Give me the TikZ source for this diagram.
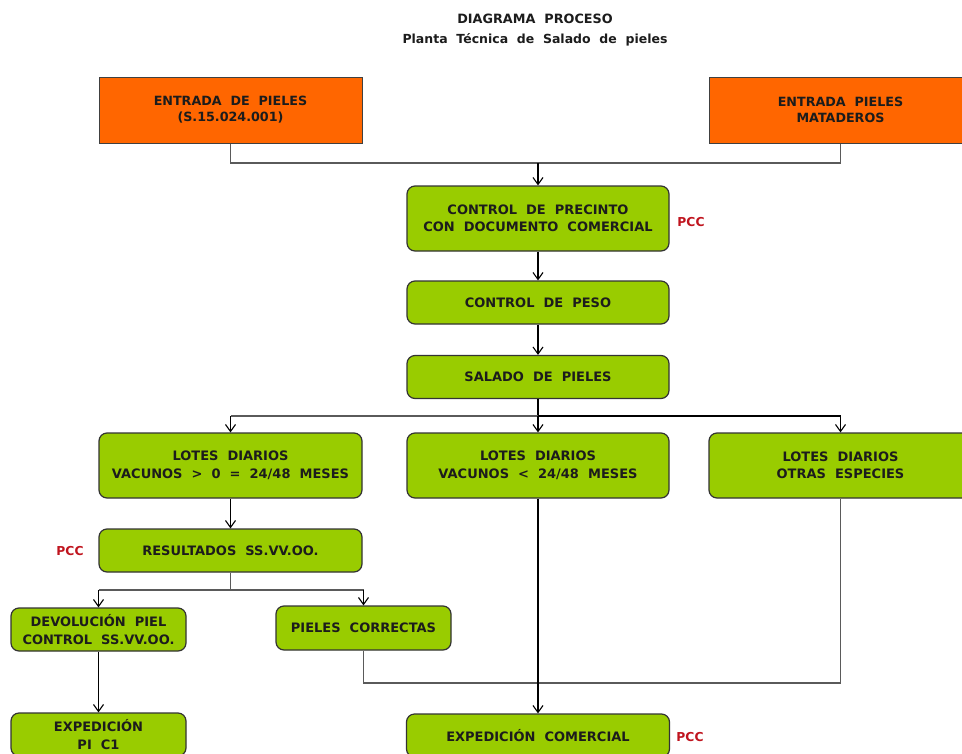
\documentclass[tikz,border=0pt]{standalone}
\usepackage{fontspec}
\usetikzlibrary{arrows.meta}
\newfontfamily\dvbold[WordSpace=2]{DejaVu Sans Bold}
\definecolor{orng}{HTML}{FF6600}
\definecolor{grn}{HTML}{99CC00}
\definecolor{txt}{HTML}{1C1C1C}
\definecolor{pccred}{HTML}{C0141E}
\definecolor{lk}{HTML}{5A5A5A}
\tikzset{
  orangebox/.style={draw=black!75, fill=orng, line width=1pt, align=center,
    text=txt, inner sep=0pt, font=\dvbold\fontsize{12.7}{16}\selectfont},
  greenbox/.style={draw=black!80, fill=grn, rounded corners=8pt, line width=1.2pt,
    align=center, text=txt, inner sep=0pt, font=\dvbold\fontsize{13}{17.5}\selectfont},
  link/.style={draw=lk, line width=1.6pt},
  strong/.style={draw=black, line width=1.6pt},
  arr/.style={draw=black, line width=1.1pt, -{Straight Barb[length=7pt,width=10pt]}},
  pcc/.style={text=pccred, font=\dvbold\fontsize{12.3}{14}\selectfont},
  heading/.style={text=txt, font=\dvbold\fontsize{12.8}{15}\selectfont}
}
\begin{document}
\begin{tikzpicture}[x=1pt,y=-1pt]
\useasboundingbox (0,0) rectangle (962,753);
\fill[white] (0,0) rectangle (962,753);

% heading
\node[heading] (t1) at (535,19) {DIAGRAMA PROCESO};
\node[heading, font=\dvbold\fontsize{12.5}{15}\selectfont] (t2) at (535,40)
  {Planta Técnica de Salado de pieles};

% input boxes
\node[orangebox, minimum width=263pt, minimum height=66pt] (inA) at (230.5,110)
  {ENTRADA DE PIELES\\(S.15.024.001)};
\node[orangebox, minimum width=263pt, minimum height=66pt] (inB) at (840.5,110)
  {ENTRADA PIELES\\MATADEROS};

% main process chain
\node[greenbox, minimum width=262pt, minimum height=65pt] (precinto) at (538,218.5)
  {CONTROL DE PRECINTO\\CON DOCUMENTO COMERCIAL};
\node[greenbox, minimum width=262pt, minimum height=43pt] (peso) at (538,302.5)
  {CONTROL DE PESO};
\node[greenbox, minimum width=262pt, minimum height=43pt] (salado) at (538,377)
  {SALADO DE PIELES};

% daily lots
\node[greenbox, minimum width=263pt, minimum height=65pt] (loteA) at (230.5,465.5)
  {LOTES DIARIOS\\VACUNOS > 0 = 24/48 MESES};
\node[greenbox, minimum width=262pt, minimum height=65pt] (loteB) at (538,465.5)
  {LOTES DIARIOS\\VACUNOS < 24/48 MESES};
\node[greenbox, minimum width=263pt, minimum height=65pt] (loteC) at (840.5,465.5)
  {LOTES DIARIOS\\OTRAS ESPECIES};

% test results and outcomes
\node[greenbox, minimum width=263pt, minimum height=43pt] (result) at (230.5,550.5)
  {RESULTADOS SS.VV.OO.};
\node[greenbox, minimum width=175pt, minimum height=43pt] (devol) at (98.5,629.5)
  {DEVOLUCIÓN PIEL\\CONTROL SS.VV.OO.};
\node[greenbox, minimum width=175pt, minimum height=44pt] (ok) at (363.5,628)
  {PIELES CORRECTAS};
\node[greenbox, minimum width=175pt, minimum height=43pt] (expPI) at (98.5,734.5)
  {EXPEDICIÓN\\PI C1};
\node[greenbox, minimum width=263pt, minimum height=43pt] (expCom) at (538,735.5)
  {EXPEDICIÓN COMERCIAL};

% critical control points
\node[pcc] (pcc1) at (691,222) {PCC};
\node[pcc] (pcc2) at (70,551) {PCC};
\node[pcc] (pcc3) at (690,737) {PCC};

% junction points
\coordinate (j1) at (538,163);
\coordinate (j2) at (538,416);
\coordinate (j3) at (230.5,590);
\coordinate (j4) at (840.5,683);

% inputs merge into the seal check
\draw[link] (inA.south) |- (j1) -| (inB.south);
\draw[arr] (j1) -- (precinto.north);
\draw[arr] (precinto.south) -- (peso.north);
\draw[arr] (peso.south) -- (salado.north);

% split into daily lots
\draw[draw=black, line width=2.6pt] (salado.south) -- (j2);
\draw[link] (loteA.north |- j2) -- (j2);
\draw[strong] (j2) -- (loteC.north |- j2);
\draw[arr] (loteA.north |- j2) -- (loteA.north);
\draw[arr] (j2) -- (loteB.north);
\draw[arr] (loteC.north |- j2) -- (loteC.north);

% test branch
\draw[arr] (loteA.south) -- (result.north);
\draw[link] (result.south) -- (j3);
\draw[link] (devol.north |- j3) -- (ok.north |- j3);
\draw[arr] (devol.north |- j3) -- (devol.north);
\draw[arr] (ok.north |- j3) -- (ok.north);
\draw[arr] (devol.south) -- (expPI.north);

% commercial dispatch
\draw[link] (ok.south) |- (j4) -- (loteC.south);
\draw[arr] (loteB.south) -- (expCom.north);
\end{tikzpicture}
\end{document}
